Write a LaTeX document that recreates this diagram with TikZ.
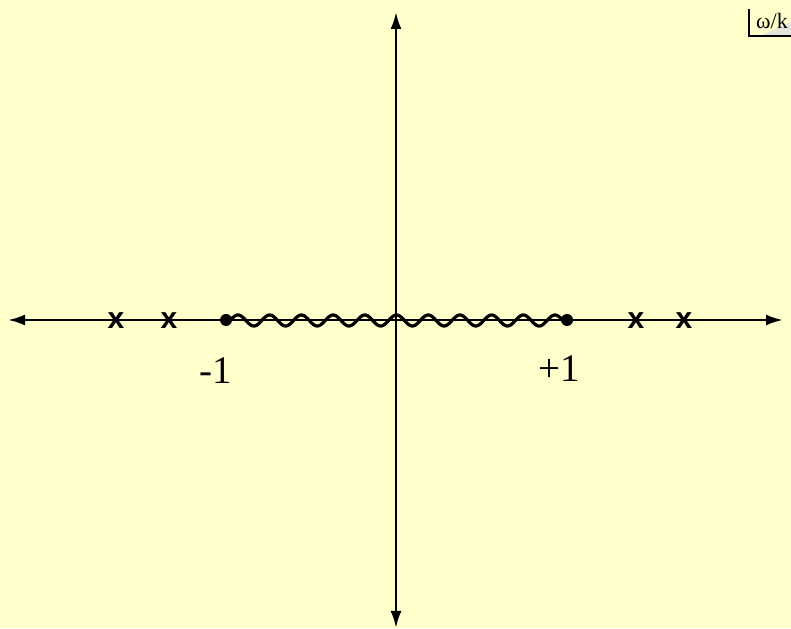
\documentclass[tikz,border=0pt]{standalone}
\usepackage{fontspec}
\setmainfont{Liberation Serif}
\newfontfamily\crossfont{Liberation Sans}
\usepackage{xcolor}
\usetikzlibrary{arrows.meta}
\definecolor{slideYellow}{HTML}{FFFFCC}
\definecolor{cornerGrey}{HTML}{E4E4DC}
\tikzset{
  axisline/.style={{Latex[length=17pt,width=11pt]}-{Latex[length=17pt,width=11pt]}, line width=2.6pt, draw=black},
  cutdot/.style={circle, fill=black, inner sep=0pt, minimum size=12pt},
  polemark/.style={font=\crossfont\bfseries\fontsize{30}{30}\selectfont, inner sep=0pt},
  ticklabel/.style={font=\fontsize{39}{39}\selectfont, inner sep=0pt},
  unitlabel/.style={font=\fontsize{22}{22}\selectfont, inner sep=1pt},
  cutwave/.style={line width=3.2pt, draw=black},
}

\begin{document}
\begin{tikzpicture}[x=1pt,y=1pt]
  % background
  \fill[slideYellow] (0,0) rectangle (791,628);
  \useasboundingbox (0,0) rectangle (791,628);

  % axis end points
  \coordinate (xl) at (8,308);
  \coordinate (xr) at (783,308);
  \coordinate (yt) at (396,616);
  \coordinate (yb) at (396,0);

  % axes
  \draw[axisline] (xl) -- (xr);
  \draw[axisline] (yb) -- (yt);

  % branch cut
  \draw[cutwave] plot[domain=226:567, samples=300, smooth] (\x, {307.5 + 5.5*cos(11.356*(\x-238))});
  \node[cutdot] (bm) at (226,308) {};
  \node[cutdot] (bp) at (567,308) {};

  % poles
  \node[polemark] (p1) at (116,307) {x};
  \node[polemark] (p2) at (169,307) {x};
  \node[polemark] (p3) at (636,307) {x};
  \node[polemark] (p4) at (684,307) {x};

  % labels
  \node[ticklabel] (lm) at (216,257) {-1};
  \node[ticklabel] (lp) at (559,259) {+1};

  % units corner
  \fill[cornerGrey] (760,592) -- (791,592) -- (791,606) -- cycle;
  \node[unitlabel, anchor=base west] (unit) at (755,599) {ω/k};
  \draw[line width=2pt] (749,619) -- (749,592) -- (791,592);
\end{tikzpicture}
\end{document}
